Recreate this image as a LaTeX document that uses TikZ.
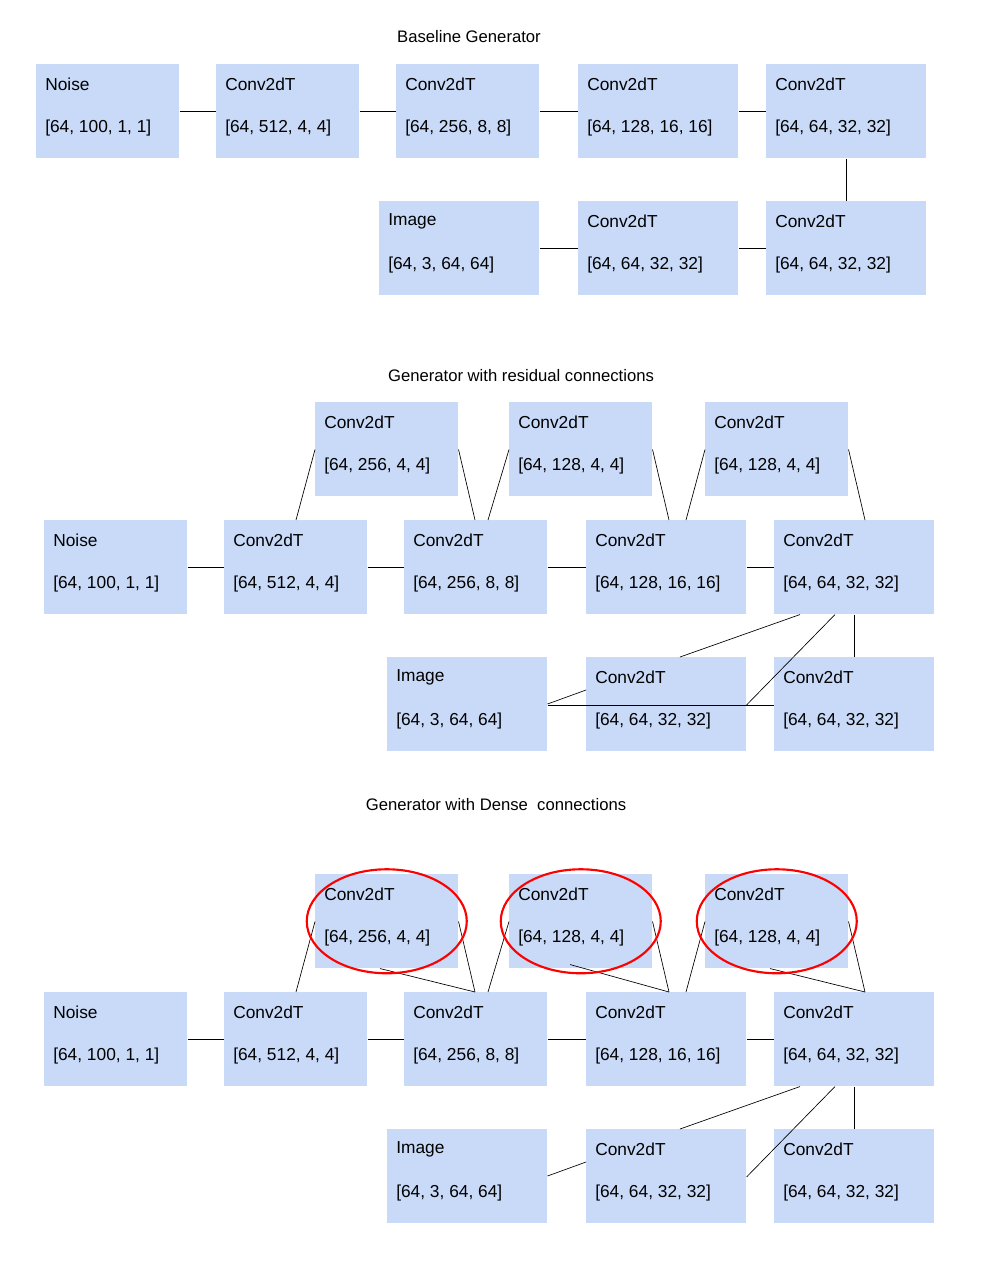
\documentclass[tikz,border=0pt]{standalone}
\usepackage{fontspec}
\setmainfont{Liberation Sans}
\usetikzlibrary{calc, positioning}
\definecolor{boxblue}{HTML}{C9DAF8}
\tikzset{
  blk/.style={rectangle, fill=boxblue, minimum height=70.5pt, anchor=north west, inner sep=0pt},
  txt/.style={anchor=west, inner sep=0pt, font=\fontsize{13}{15}\selectfont},
  heading/.style={font=\fontsize{12.5}{15}\selectfont, inner sep=0pt},
  link/.style={draw=black, line width=0.5pt},
  ring/.style={draw=red, line width=1.6pt}
}
% name, x, y, width, title, dims
\newcommand\blk[6]{%
  \node[blk, minimum width=#4*0.75pt] (#1) at (#2,#3) {};
  \node[txt] (#1t) at ($(#1.north west)+(9,20)$) {#5};
  \node[txt] (#1d) at ($(#1.north west)+(9,64)$) {#6};
}
\begin{document}
\begin{tikzpicture}[x=0.75pt, y=-0.75pt]
  \useasboundingbox (0,0) rectangle (995,1275);

  % baseline generator
  \node[heading] (titleA) at (469,37) {Baseline Generator};
  \blk{aN}{36}{64}{143}{Noise}{[64, 100, 1, 1]}
  \blk{a1}{216}{64}{143}{Conv2dT}{[64, 512, 4, 4]}
  \blk{a2}{396}{64}{143}{Conv2dT}{[64, 256, 8, 8]}
  \blk{a3}{578}{64}{160}{Conv2dT}{[64, 128, 16, 16]}
  \blk{a4}{766}{64}{160}{Conv2dT}{[64, 64, 32, 32]}
  \blk{aI}{379}{201}{160}{Image}{[64, 3, 64, 64]}
  \blk{a5}{578}{201}{160}{Conv2dT}{[64, 64, 32, 32]}
  \blk{a6}{766}{201}{160}{Conv2dT}{[64, 64, 32, 32]}
  \draw[link] (aN) -- (a1);
  \draw[link] (a1) -- (a2);
  \draw[link] (a2) -- (a3);
  \draw[link] (a3) -- (a4);
  \draw[link] (a4) -- (a6);
  \draw[link] (a6) -- (a5);
  \draw[link] (a5) -- (aI);

  % residual connections
  \node[heading] (titleB) at (521,376) {Generator with residual connections};
  \foreach \p/\dy in {b/0, c/472} {
    \blk{\p U1}{315}{402+\dy}{143}{Conv2dT}{[64, 256, 4, 4]}
    \blk{\p U2}{509}{402+\dy}{143}{Conv2dT}{[64, 128, 4, 4]}
    \blk{\p U3}{705}{402+\dy}{143}{Conv2dT}{[64, 128, 4, 4]}
    \blk{\p N}{44}{520+\dy}{143}{Noise}{[64, 100, 1, 1]}
    \blk{\p 1}{224}{520+\dy}{143}{Conv2dT}{[64, 512, 4, 4]}
    \blk{\p 2}{404}{520+\dy}{143}{Conv2dT}{[64, 256, 8, 8]}
    \blk{\p 3}{586}{520+\dy}{160}{Conv2dT}{[64, 128, 16, 16]}
    \blk{\p 4}{774}{520+\dy}{160}{Conv2dT}{[64, 64, 32, 32]}
    \blk{\p I}{387}{657+\dy}{160}{Image}{[64, 3, 64, 64]}
    \blk{\p 5}{586}{657+\dy}{160}{Conv2dT}{[64, 64, 32, 32]}
    \blk{\p 6}{774}{657+\dy}{160}{Conv2dT}{[64, 64, 32, 32]}
    \draw[link] (\p N) -- (\p 1);
    \draw[link] (\p 1) -- (\p 2);
    \draw[link] (\p 2) -- (\p 3);
    \draw[link] (\p 3) -- (\p 4);
    \draw[link] ($(\p 1.north west)+(72,0)$) -- ($(\p U1.south west)+(0,-47)$);
    \draw[link] ($(\p U1.south east)+(0,-47)$) -- ($(\p 2.north west)+(71,0)$);
    \draw[link] ($(\p 2.north west)+(84,0)$) -- ($(\p U2.south west)+(0,-47)$);
    \draw[link] ($(\p U2.south east)+(0,-47)$) -- ($(\p 3.north west)+(83,0)$);
    \draw[link] ($(\p 3.north west)+(100,0)$) -- ($(\p U3.south west)+(0,-47)$);
    \draw[link] ($(\p U3.south east)+(0,-47)$) -- ($(\p 4.north west)+(91,0)$);
    \draw[link] ($(\p 4.south west)+(80,0)$) -- ($(\p 6.north west)+(80,0)$);
    \draw[link] ($(\p 4.south west)+(26,0)$) -- ($(\p 5.north west)+(94,0)$);
    \draw[link] ($(\p 4.south west)+(61,0)$) -- ($(\p 5.north east)+(0,48)$);
    \draw[link] ($(\p I.north east)+(0,47)$) -- ($(\p 5.north west)+(0,33)$);
  }
  \draw[link] ($(bI.north east)+(0,48)$) -- ($(b6.north west)+(0,48)$);

  % dense connections
  \node[heading] (titleC) at (496,805) {Generator with Dense\ \ connections};
  \draw[link] ($(cU1.south west)+(65,0)$) -- ($(c2.north west)+(71,0)$);
  \draw[link] ($(cU2.south west)+(61,-4)$) -- ($(c3.north west)+(83,0)$);
  \draw[link] ($(cU3.south west)+(65,0)$) -- ($(c4.north west)+(91,0)$);
  \foreach \u in {1,2,3}
    \draw[ring] (cU\u.center) ellipse[x radius=80, y radius=52];
\end{tikzpicture}
\end{document}
